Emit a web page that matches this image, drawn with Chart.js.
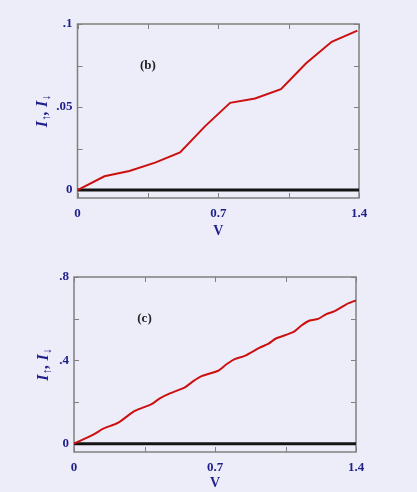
<!DOCTYPE html>
<html><head><meta charset="utf-8">
<script src="https://cdn.jsdelivr.net/npm/chart.js@4/dist/chart.umd.min.js"></script>
<style>
html,body{margin:0;padding:0;background:#ededf9;}
#w{position:relative;width:417px;height:492px;overflow:hidden;background:#ededf9;}
.c{position:absolute;left:0;width:417px;}
</style></head><body>
<div id="w">
<div class="c" style="top:0;height:246px"><canvas id="cb"></canvas></div>
<div class="c" style="top:250px;height:242px"><canvas id="cc"></canvas></div>
</div>
<script>
// Panel (b)
const vB = [0, 0.134, 0.258, 0.386, 0.510, 0.635, 0.759, 0.883, 1.012, 1.137, 1.264, 1.392];
const iB = [0, 0.0083, 0.0115, 0.0165, 0.0227, 0.0385, 0.0525, 0.0551, 0.0608, 0.0763, 0.0893, 0.096];
const yTicksB = [0, 0.025, 0.05, 0.075, 0.1];
const yLabelsB = {0: '0', 0.05: '.05', 0.1: '.1'};
// Panel (c)
const vC = [0, 0.096, 0.145, 0.220, 0.294, 0.344, 0.385, 0.426, 0.476, 0.550, 0.592, 0.633, 0.716, 0.757, 0.798, 0.847, 0.922, 0.964, 1.005, 1.088, 1.129, 1.170, 1.212, 1.253, 1.294, 1.352, 1.4];
const iC = [0, 0.043, 0.072, 0.101, 0.153, 0.174, 0.190, 0.217, 0.241, 0.270, 0.300, 0.324, 0.350, 0.381, 0.406, 0.421, 0.461, 0.479, 0.506, 0.535, 0.567, 0.591, 0.599, 0.622, 0.636, 0.669, 0.688];
const yTicksC = [0, 0.2, 0.4, 0.6, 0.8];
const yLabelsC = {0: '0', 0.4: '.4', 0.8: '.8'};
// shared x axis
const xTicks = [0, 0.35, 0.7, 1.05, 1.4];
const xLabels = {0: '0', 0.7: '0.7', 1.4: '1.4'};
const zeroLineV = [0, 1.4];
const zeroLineI = [0, 0];

const SERIF = "'Liberation Serif','DejaVu Serif','Times New Roman',serif";
const NAVY = '#1e1e8c';

const framePlugin = {
  id: 'frame',
  beforeDatasetsDraw(chart) {
    const {ctx, chartArea: a, scales: {x, y}} = chart;
    ctx.save();
    ctx.strokeStyle = '#808080';
    ctx.lineWidth = 1.5;
    ctx.strokeRect(a.left, a.top, a.right - a.left, a.bottom - a.top);
    ctx.lineWidth = 1;
    const L = 5;
    ctx.beginPath();
    x.ticks.forEach(t => {
      const px = Math.round(x.getPixelForValue(t.value)) + 0.5;
      ctx.moveTo(px, a.bottom); ctx.lineTo(px, a.bottom - L);
      ctx.moveTo(px, a.top); ctx.lineTo(px, a.top + L);
    });
    y.ticks.forEach(t => {
      const py = Math.round(y.getPixelForValue(t.value)) + 0.5;
      ctx.moveTo(a.left, py); ctx.lineTo(a.left + L, py);
      ctx.moveTo(a.right, py); ctx.lineTo(a.right - L, py);
    });
    ctx.stroke();
    ctx.restore();
  },
  afterDraw(chart) {
    const {ctx, chartArea: a, scales: {x, y}} = chart;
    const o = chart.options.plugins.frame;
    ctx.save();
    // panel label
    ctx.fillStyle = '#222';
    ctx.font = 'bold 13px ' + SERIF;
    ctx.textAlign = 'center';
    ctx.textBaseline = 'middle';
    ctx.fillText(o.panel, x.getPixelForValue(o.px), y.getPixelForValue(o.py));
    // y title: I↑, I↓ rotated
    ctx.translate(o.titleX, (a.top + a.bottom) / 2);
    ctx.rotate(-Math.PI / 2);
    ctx.fillStyle = NAVY;
    ctx.textBaseline = 'alphabetic';
    ctx.textAlign = 'left';
    const big = 'italic bold 16px ' + SERIF;
    const small = 'bold 12px ' + SERIF;
    const parts = [['I', big, 0], ['\u2191', small, 3], [', ', big, 0], ['I', big, 0], ['\u2193', small, 3]];
    let total = 0;
    parts.forEach(p => { ctx.font = p[1]; total += ctx.measureText(p[0]).width; });
    let cx = -total / 2;
    parts.forEach(p => { ctx.font = p[1]; ctx.fillText(p[0], cx, 5 + p[2]); cx += ctx.measureText(p[0]).width; });
    ctx.restore();
  }
};

function makeChart(id, vs, is, tension, yMin, yMax, yTicks, yLabels, yW, padR, padT, xH, titlePadB, panel, py, titleX) {
  return new Chart(document.getElementById(id), {
    type: 'line',
    data: {
      datasets: [
        {data: vs.map((v, k) => ({x: v, y: is[k]})), borderColor: '#cc1010', borderWidth: 2, pointRadius: 0, tension: tension, order: 0},
        {data: zeroLineV.map((v, k) => ({x: v, y: zeroLineI[k]})), borderColor: '#141414', borderWidth: 3, pointRadius: 0, order: 1}
      ]
    },
    options: {
      responsive: true, maintainAspectRatio: false, animation: false,
      layout: {padding: {left: 0, right: padR, top: padT, bottom: 0}},
      plugins: {legend: {display: false}, tooltip: {enabled: false},
        frame: {panel: panel, px: 0.35, py: py, titleX: titleX}},
      scales: {
        x: {
          type: 'linear', min: 0, max: 1.4,
          afterBuildTicks: s => { s.ticks = xTicks.map(v => ({value: v})); },
          afterFit: s => { s.height = xH; },
          grid: {display: false, drawTicks: false}, border: {display: false},
          ticks: {padding: 8, color: NAVY, font: {family: SERIF, size: 13, weight: 'bold'}, maxRotation: 0, autoSkip: false,
            callback: v => xLabels[v] !== undefined ? xLabels[v] : ''},
          title: {display: true, text: 'V', color: NAVY, font: {family: SERIF, size: 14, weight: 'bold'}, padding: {top: 4, bottom: titlePadB}}
        },
        y: {
          type: 'linear', min: yMin, max: yMax,
          afterBuildTicks: s => { s.ticks = yTicks.map(v => ({value: v})); },
          afterFit: s => { s.width = yW; },
          grid: {display: false, drawTicks: false}, border: {display: false},
          ticks: {padding: 5, color: NAVY, font: {family: SERIF, size: 13, weight: 'bold'}, autoSkip: false,
            callback: v => yLabels[v] !== undefined ? yLabels[v] : ''}
        }
      }
    },
    plugins: [framePlugin]
  });
}

makeChart('cb', vB, iB, 0, -0.0048, 0.1, yTicksB, yLabelsB, 77.5, 58, 24, 48, 6, '(b)', 0.075, 42);
makeChart('cc', vC, iC, 0.25, -0.04, 0.8, yTicksC, yLabelsC, 74, 61, 27, 40, 0, '(c)', 0.6, 43);
</script>
</body></html>
